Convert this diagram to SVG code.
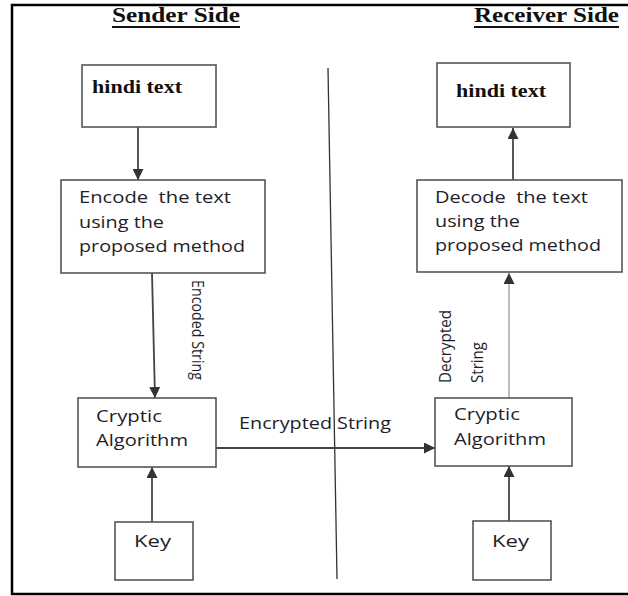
<svg xmlns="http://www.w3.org/2000/svg" width="628" height="596" viewBox="0 0 628 596">
<style>
.box{fill:#fff;stroke:#555;stroke-width:1.6}
.t{font-family:"Open Sans","Liberation Sans",sans-serif;font-size:17px;fill:#1e1e2a;white-space:pre}
.h{font-family:"Liberation Serif",serif;font-weight:bold;font-size:18px;fill:#111}
.hd{font-family:"Liberation Serif",serif;font-weight:bold;font-size:21px;fill:#111}
.c{stroke:#444;stroke-width:1.8;fill:none}
.cg{stroke:#999;stroke-width:1.3;fill:none}
</style>
<defs>
<marker id="ah" viewBox="0 0 10 10" refX="10" refY="5" markerWidth="11" markerHeight="11" markerUnits="userSpaceOnUse" orient="auto">
<path d="M0,0 L10,5 L0,10 z" fill="#333"/>
</marker>
</defs>
<rect width="628" height="596" fill="#fff"/>
<g id="frame">
<polyline points="628,5 12,5 12,594 628,594" fill="none" stroke="#000" stroke-width="2.5"/>
</g>
<g id="headings">
<text class="hd" x="112" y="22" textLength="128" lengthAdjust="spacingAndGlyphs">Sender Side</text>
<line x1="112" y1="27" x2="240" y2="27" stroke="#111" stroke-width="2"/>
<text class="hd" x="474" y="22" textLength="145" lengthAdjust="spacingAndGlyphs">Receiver Side</text>
<line x1="474" y1="27" x2="619" y2="27" stroke="#111" stroke-width="2"/>
</g>
<g id="divider">
<line x1="328" y1="68" x2="337" y2="579" stroke="#333" stroke-width="1.3"/>
</g>
<g id="connectors">
<line class="c" x1="138" y1="127" x2="138" y2="180" marker-end="url(#ah)"/>
<line class="c" x1="152" y1="273" x2="155" y2="398" marker-end="url(#ah)"/>
<line class="c" x1="152" y1="522" x2="152" y2="467" marker-end="url(#ah)"/>
<line class="c" x1="216" y1="448" x2="435" y2="448" marker-end="url(#ah)"/>
<line class="c" x1="509" y1="521" x2="509" y2="466" marker-end="url(#ah)"/>
<line class="cg" x1="509" y1="398" x2="509" y2="273" marker-end="url(#ah)"/>
<line class="c" x1="513" y1="180" x2="513" y2="128" marker-end="url(#ah)"/>
<text class="t" transform="translate(192,280) rotate(90)" font-size="16" textLength="100" lengthAdjust="spacingAndGlyphs">Encoded String</text>
<text class="t" x="239" y="429" textLength="152" lengthAdjust="spacingAndGlyphs">Encrypted String</text>
<text class="t" transform="translate(451,383) rotate(-90)" font-size="16" textLength="73" lengthAdjust="spacingAndGlyphs">Decrypted</text>
<text class="t" transform="translate(483,383) rotate(-90)" font-size="16" textLength="41" lengthAdjust="spacingAndGlyphs">String</text>
</g>
<g id="hindi-send">
<rect class="box" x="82" y="65" width="134" height="62"/>
<text class="h" x="92" y="93" textLength="90" lengthAdjust="spacingAndGlyphs">hindi text</text>
</g>
<g id="encode">
<rect class="box" x="61" y="180" width="204" height="93"/>
<text class="t" x="79" y="203" textLength="152" lengthAdjust="spacingAndGlyphs">Encode  the text</text>
<text class="t" x="79" y="228" textLength="85" lengthAdjust="spacingAndGlyphs">using the</text>
<text class="t" x="79" y="252" textLength="166" lengthAdjust="spacingAndGlyphs">proposed method</text>
</g>
<g id="cryptic-send">
<rect class="box" x="78" y="398" width="138" height="69"/>
<text class="t" x="96" y="422" textLength="66" lengthAdjust="spacingAndGlyphs">Cryptic</text>
<text class="t" x="96" y="446" textLength="92" lengthAdjust="spacingAndGlyphs">Algorithm</text>
</g>
<g id="key-send">
<rect class="box" x="115" y="522" width="78" height="58"/>
<text class="t" x="134" y="547" textLength="37" lengthAdjust="spacingAndGlyphs">Key</text>
</g>
<g id="hindi-recv">
<rect class="box" x="437" y="63" width="133" height="64"/>
<text class="h" x="456" y="97" textLength="90" lengthAdjust="spacingAndGlyphs">hindi text</text>
</g>
<g id="decode">
<rect class="box" x="417" y="180" width="205" height="92"/>
<text class="t" x="435" y="203" textLength="153" lengthAdjust="spacingAndGlyphs">Decode  the text</text>
<text class="t" x="435" y="227" textLength="85" lengthAdjust="spacingAndGlyphs">using the</text>
<text class="t" x="435" y="251" textLength="166" lengthAdjust="spacingAndGlyphs">proposed method</text>
</g>
<g id="cryptic-recv">
<rect class="box" x="435" y="398" width="137" height="68"/>
<text class="t" x="454" y="420" textLength="66" lengthAdjust="spacingAndGlyphs">Cryptic</text>
<text class="t" x="454" y="445" textLength="92" lengthAdjust="spacingAndGlyphs">Algorithm</text>
</g>
<g id="key-recv">
<rect class="box" x="473" y="521" width="78" height="59"/>
<text class="t" x="492" y="547" textLength="37" lengthAdjust="spacingAndGlyphs">Key</text>
</g>
</svg>
